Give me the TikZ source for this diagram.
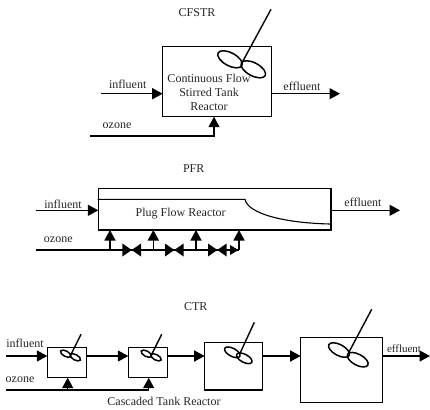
\documentclass[tikz,border=0pt]{standalone}
\usepackage{fontspec}
\setmainfont{Liberation Serif}
\usetikzlibrary{arrows.meta,shapes.geometric,calc}
\tikzset{
  line/.style={line width=1.5pt,black},
  flow/.style={line,-{Triangle[length=10.5pt,width=11pt]}},
  shaft/.style={line width=1.4pt},
  box/.style={draw,line width=1.5pt,rectangle,inner sep=0pt,outer sep=0pt},
  blade/.style={draw,line width=1.5pt,ellipse,inner sep=0pt,outer sep=0pt,rotate=-28},
  lbl/.style={font=\fontsize{12pt}{14pt}\selectfont,inner sep=0pt,text=black!85},
  valve/.pic={\fill (-9.3,-6.5)--(0,0)--(-9.3,6.5)--cycle;\fill (9.3,-6.5)--(0,0)--(9.3,6.5)--cycle;}
}
\begin{document}
\begin{tikzpicture}[x=1pt,y=-1pt]
\useasboundingbox (0,0) rectangle (430,409);
% CFSTR
\node[lbl] (t1) at (197,13) {CFSTR};
\node[box,minimum width=109pt,minimum height=70pt] (cf) at (217.2,81.7) {};
\node[lbl,align=center] (cft) at (209,92) {Continuous Flow\\Stirred Tank\\Reactor};
\node[blade,minimum width=27pt,minimum height=13pt] (cb1) at (230,59.3) {};
\node[blade,minimum width=27pt,minimum height=13pt] (cb2) at (253.3,69.3) {};
\coordinate (cs) at (271,9.3); \coordinate (cse) at (241.7,63.3);
\draw[shaft] (cs) -- (cse);
\coordinate (ci) at (101,93.7); \coordinate (ce) at (340,93.7);
\coordinate (co) at (90,136); \coordinate (cot) at (214,116.7);
\draw[flow] (ci) -- (ci -| cf.west);
\draw[flow] (ce -| cf.east) -- (ce);
\draw[flow] (co) -| (cot);
\node[lbl] (cl1) at (127.7,84) {influent};
\node[lbl] (cl2) at (302,86) {effluent};
\node[lbl] (cl3) at (117,125.5) {ozone};
% PFR
\node[lbl] (t2) at (193.7,169) {PFR};
\node[box,minimum width=232.7pt,minimum height=41.3pt] (pf) at (214.65,209.35) {};
\node[lbl] (pft) at (180.7,214) {Plug Flow Reactor};
\coordinate (ps) at (97.5,199.3); \coordinate (pm) at (245,199.3); \coordinate (pe) at (330,224);
\draw[line width=1.1pt] (ps) -- (pm) .. controls (248,214) and (285,223) .. (pe);
\coordinate (pi) at (36,210.3); \coordinate (po) at (400,210.3);
\draw[flow] (pi) -- (pi -| pf.west);
\draw[flow] (po -| pf.east) -- (po);
\coordinate (poz) at (36,250);
\coordinate (pb1) at (110,250); \coordinate (pb2) at (153.3,250);
\coordinate (pb3) at (196,250); \coordinate (pb4) at (239,250);
\draw[line] (poz) -- (pb4);
\foreach \b in {pb1,pb2,pb3,pb4}{\draw[flow] (\b) -- (\b |- pf.south);}
\pic at (131.7,250) {valve};
\pic at (174.3,250) {valve};
\pic at (217.3,250) {valve};
\fill (230,245) -- (238.5,250) -- (230,255) -- cycle;
\node[lbl] (pl1) at (63,204) {influent};
\node[lbl] (pl2) at (363,202) {effluent};
\node[lbl] (pl3) at (58.3,240) {ozone};
% CTR
\node[lbl] (t3) at (195.7,307) {CTR};
\node[box,minimum width=39.4pt,minimum height=30pt] (b1) at (67,362.7) {};
\node[box,minimum width=39pt,minimum height=30pt] (b2) at (147.8,362.7) {};
\node[box,minimum width=57.6pt,minimum height=47.3pt] (b3) at (233.5,366.35) {};
\node[box,minimum width=82pt,minimum height=65pt] (b4) at (341.7,370.2) {};
\coordinate (fi) at (6,356); \coordinate (fe) at (430,356);
\draw[flow] (fi) -- (fi -| b1.west);
\draw[flow] (fi -| b1.east) -- (fi -| b2.west);
\draw[flow] (fi -| b2.east) -- (fi -| b3.west);
\draw[flow] (fi -| b3.east) -- (fi -| b4.west);
\draw[flow] (fi -| b4.east) -- (fe);
\coordinate (oz) at (6,390); \coordinate (oz1) at (67.7,390); \coordinate (oz2) at (148.7,390);
\draw[line] (oz) -- (oz2);
\draw[flow] (oz1) -- (oz1 |- b1.south);
\draw[flow] (oz2) -- (oz2 |- b2.south);
% stirrers
\node[blade,minimum width=11.5pt,minimum height=5.5pt] (s1a) at (65.7,353.7) {};
\node[blade,minimum width=11.5pt,minimum height=5.5pt] (s1b) at (75.3,357.3) {};
\draw[shaft] (81,334.3) coordinate (s1t) -- (70.7,355) coordinate (s1e);
\node[blade,minimum width=11.5pt,minimum height=5.5pt] (s2a) at (146.4,353.7) {};
\node[blade,minimum width=11.5pt,minimum height=5.5pt] (s2b) at (156,357.3) {};
\draw[shaft] (161.7,334.3) coordinate (s2t) -- (151.4,355) coordinate (s2e);
\node[blade,minimum width=17pt,minimum height=8pt] (s3a) at (232.3,352.3) {};
\node[blade,minimum width=17pt,minimum height=8pt] (s3b) at (244.3,358.3) {};
\draw[shaft] (254.3,322.3) coordinate (s3t) -- (240,353.3) coordinate (s3e);
\node[blade,minimum width=23pt,minimum height=11pt] (s4a) at (339,350) {};
\node[blade,minimum width=23pt,minimum height=11pt] (s4b) at (357.7,359.7) {};
\draw[shaft] (371.7,309.3) coordinate (s4t) -- (348.3,353.3) coordinate (s4e);
\node[lbl] (l1) at (25,343) {influent};
\node[lbl,font=\fontsize{11pt}{13pt}\selectfont] (l2) at (404,348.3) {effluent};
\node[lbl] (l3) at (20,380) {ozone};
\node[lbl] (l4) at (164,401) {Cascaded Tank Reactor};
\end{tikzpicture}
\end{document}
